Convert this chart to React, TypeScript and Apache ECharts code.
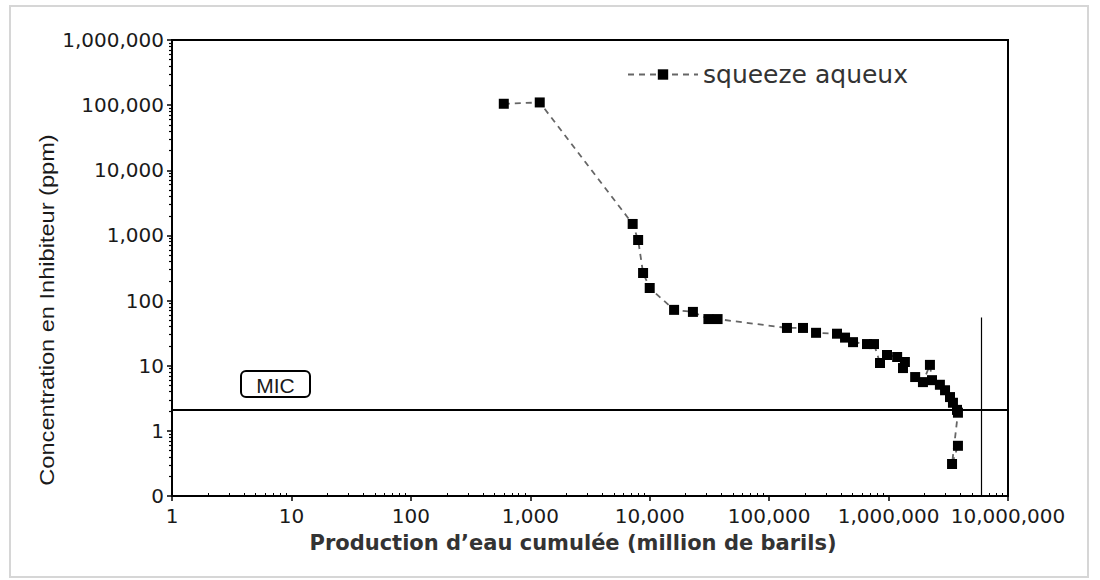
import React, { useEffect, useRef } from "react";
import * as echarts from "echarts";

// Data (cumulative water production vs inhibitor concentration)
const productionX: number[] = [
  600, 1200, 7200, 8000, 8800, 10000, 16000, 23000, 31000, 37000,
  141000, 192000, 247000, 370000, 432000, 504000, 660000, 755000,
  848000, 970000, 1180000, 1370000, 1320000, 1670000, 1940000, 2220000,
  2310000, 2690000, 2970000, 3270000, 3460000, 3740000, 3810000, 3400000, 3810000,
];
const concentrationY: number[] = [
  105000, 110000, 1500, 850, 265, 156, 72, 67, 52, 52,
  38, 38, 32, 31, 27, 23, 21.5, 21.5,
  11, 14.6, 13.6, 11.4, 9.2, 6.7, 5.6, 10.3,
  6.0, 5.1, 4.2, 3.3, 2.7, 2.1, 1.9, 0.31, 0.59,
];
const seriesName = "squeeze aqueux";
const micValue = 2.1;
const verticalLineX = 6000000;
const verticalLineTop = 55;
const xTitle = "Production d\u2019eau cumulée (million de barils)";
const yTitle = "Concentration en Inhibiteur (ppm)";
const micLabel = "MIC";

const X_MIN = 1;
const X_MAX = 10000000;
const Y_MIN = 0.1;
const Y_MAX = 1000000;

function minorTicks(min: number, max: number): number[] {
  const out: number[] = [];
  for (let d = min; d < max; d *= 10) {
    for (let k = 2; k <= 9; k++) {
      out.push(Number((d * k).toPrecision(6)));
    }
  }
  return out;
}

export default function App() {
  const ref = useRef<HTMLDivElement>(null);
  useEffect(() => {
    if (!ref.current) return;
    const chart = echarts.init(ref.current, undefined, { renderer: "svg" });
    const pts = productionX.map((x, i) => [x, concentrationY[i]]);
    const fmt = (v: number) => (v < 1 ? "0" : Math.round(v).toLocaleString("en-US"));
    const labelFont = "DejaVu Sans";
    chart.setOption({
      animation: false,
      backgroundColor: "#ffffff",
      grid: {
        left: 172,
        right: 92,
        top: 40,
        bottom: 84,
        show: true,
        borderColor: "#000",
        borderWidth: 2,
        backgroundColor: "transparent",
      },
      legend: {
        left: 622,
        top: 57,
        itemWidth: 70,
        itemHeight: 13,
        itemGap: 6,
        textStyle: { fontSize: 25, fontFamily: labelFont, color: "#333" },
        data: [seriesName],
      },
      xAxis: [
        {
          type: "log",
          logBase: 10,
          min: X_MIN,
          max: X_MAX,
          position: "bottom",
          axisLine: { show: true, lineStyle: { color: "#000", width: 2 } },
          axisTick: { show: true, length: 5, lineStyle: { color: "#000", width: 1.5 } },
          axisLabel: {
            formatter: fmt,
            fontSize: 20,
            fontFamily: labelFont,
            color: "#1a1a1a",
            margin: 10,
            showMaxLabel: true,
            showMinLabel: true,
          },
          splitLine: { show: false },
        },
        {
          type: "log",
          logBase: 10,
          min: X_MIN,
          max: X_MAX,
          position: "bottom",
          axisLine: { show: false },
          axisTick: {
            show: true,
            inside: true,
            length: 3,
            customValues: minorTicks(X_MIN, X_MAX),
            lineStyle: { color: "#000", width: 1 },
          },
          axisLabel: { show: false },
          splitLine: { show: false },
        },
      ],
      yAxis: [
        {
          type: "log",
          logBase: 10,
          min: Y_MIN,
          max: Y_MAX,
          position: "left",
          axisLine: { show: true, lineStyle: { color: "#000", width: 2 } },
          axisTick: { show: true, length: 5, lineStyle: { color: "#000", width: 1.5 } },
          axisLabel: {
            formatter: fmt,
            fontSize: 20,
            fontFamily: labelFont,
            color: "#1a1a1a",
            margin: 8,
            showMaxLabel: true,
            showMinLabel: true,
          },
          splitLine: { show: false },
        },
        {
          type: "log",
          logBase: 10,
          min: Y_MIN,
          max: Y_MAX,
          position: "left",
          axisLine: { show: false },
          axisTick: {
            show: true,
            length: 3,
            customValues: minorTicks(Y_MIN, Y_MAX),
            lineStyle: { color: "#000", width: 1.2 },
          },
          axisLabel: { show: false },
          splitLine: { show: false },
        },
      ],
      graphic: [
        {
          type: "rect",
          shape: { x: 10, y: 6, width: 1078, height: 571 },
          style: { fill: "none", stroke: "#d6d6d6", lineWidth: 2 },
          silent: true,
          z: -10,
        },
        {
          type: "text",
          x: 47,
          y: 310,
          rotation: Math.PI / 2,
          scaleX: 1.18,
          style: {
            text: yTitle,
            fontSize: 20,
            fontFamily: "Liberation Sans",
            fill: "#1a1a1a",
            align: "center",
            verticalAlign: "middle",
          },
        },
        {
          type: "text",
          x: 573,
          y: 543,
          style: {
            text: xTitle,
            fontSize: 21,
            fontWeight: "bold",
            fontFamily: labelFont,
            fill: "#333",
            align: "center",
            verticalAlign: "middle",
          },
        },
        {
          type: "rect",
          shape: { x: 241, y: 371, width: 69, height: 26, r: 5 },
          style: { fill: "#fff", stroke: "#000", lineWidth: 2 },
        },
        {
          type: "text",
          x: 275.5,
          y: 385,
          style: {
            text: micLabel,
            fontSize: 21,
            fontFamily: "Liberation Sans",
            fill: "#1a1a1a",
            align: "center",
            verticalAlign: "middle",
          },
        },
      ],
      series: [
        {
          name: seriesName,
          type: "line",
          xAxisIndex: 0,
          yAxisIndex: 0,
          data: pts,
          symbol: "rect",
          symbolSize: 10,
          showSymbol: true,
          itemStyle: { color: "#000" },
          lineStyle: { color: "#666", width: 1.8, type: [6, 5] },
          z: 3,
          markLine: {
            silent: true,
            symbol: "none",
            label: { show: false },
            lineStyle: { color: "#000", type: "solid" },
            data: [
              [
                { coord: [X_MIN, micValue], lineStyle: { width: 2, color: "#000", type: "solid" } },
                { coord: [X_MAX, micValue] },
              ],
              [
                { coord: [verticalLineX, Y_MIN], lineStyle: { width: 1.2, color: "#000", type: "solid" } },
                { coord: [verticalLineX, verticalLineTop] },
              ],
            ],
          },
        },
      ],
    });
    return () => chart.dispose();
  }, []);
  return (
    <div
      ref={ref}
      style={{ position: "fixed", left: 0, top: 0, width: 1100, height: 580 }}
    />
  );
}
